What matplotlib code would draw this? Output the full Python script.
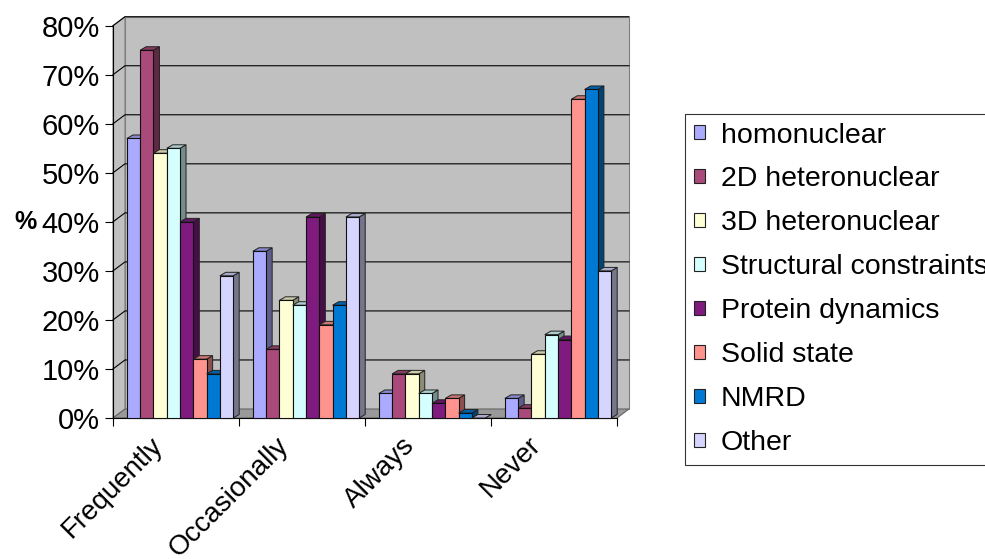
import numpy as np
import matplotlib.pyplot as plt
from matplotlib.patches import Polygon, Patch
from matplotlib.transforms import offset_copy

plt.rcParams['font.family'] = ['Liberation Sans', 'DejaVu Sans']

categories = ['Frequently', 'Occasionally', 'Always', 'Never']
series_names = ['homonuclear', '2D heteronuclear', '3D heteronuclear',
                'Structural constraints', 'Protein dynamics', 'Solid state',
                'NMRD', 'Other']
homonuclear = [57, 34, 5, 4]
hetero_2d = [75, 14, 9, 2]
hetero_3d = [54, 24, 9, 13]
structural = [55, 23, 5, 17]
dynamics = [40, 41, 3, 16]
solid_state = [12, 19, 4, 65]
nmrd = [9, 23, 1, 67]
other = [29, 41, 0, 30]
series = [homonuclear, hetero_2d, hetero_3d, structural, dynamics,
          solid_state, nmrd, other]
colors = ['#AAAAFF', '#AA4A7A', '#FFFFD5', '#D5FFFF', '#7F1A7F',
          '#FF948F', '#0079D5', '#D5D5FF']
yticks = [0, 10, 20, 30, 40, 50, 60, 70, 80]

W, H = 985, 559
fig = plt.figure(figsize=(W / 100, H / 100), dpi=100)
ax = fig.add_axes([113 / W, (H - 418) / H, 504 / W, (418 - 25.7) / H])
ax.set_xlim(0, 4)
ax.set_ylim(0, 80)
ax.set_facecolor('none')

# pixel -> data conversion for the fake 3d depth
px_x = 4 / 504
px_y = 80 / (418 - 25.7)
wdx, wdy = 12 * px_x, 9 * px_y     # wall depth
bdx, bdy = 6 * px_x, 3.5 * px_y    # bar depth

wall_col = '#C0C0C0'
# side wall
ax.add_patch(Polygon([(0, 0), (wdx, wdy), (wdx, 80 + wdy), (0, 80)],
                     closed=True, fc=wall_col, ec='#808080', lw=0.8,
                     clip_on=False, zorder=0.5))
# back wall
ax.add_patch(Polygon([(wdx, wdy), (4 + wdx, wdy), (4 + wdx, 80 + wdy), (wdx, 80 + wdy)],
                     closed=True, fc=wall_col, ec='#808080', lw=0.8,
                     clip_on=False, zorder=0.5))
# gridlines across side and back wall
for v in yticks[1:]:
    ax.plot([0, wdx, 4 + wdx], [v, v + wdy, v + wdy], color='black', lw=0.8,
            clip_on=False, zorder=1)
# floor
ax.add_patch(Polygon([(0, 0), (4, 0), (4 + wdx, wdy), (wdx, wdy)],
                     closed=True, fc='#999999', ec='#666666', lw=0.8,
                     clip_on=False, zorder=1.5))

def shade(c, f):
    r, g, b = [int(c[i:i + 2], 16) / 255 for i in (1, 3, 5)]
    return (r * f, g * f, b * f)

bw = 0.1055
start = 0.11
for j, (vals, col) in enumerate(zip(series, colors)):
    for i, v in enumerate(vals):
        x0 = i + start + j * bw
        z = 3 + j * 0.1
        ax.add_patch(Polygon([(x0 + bw, 0), (x0 + bw + bdx, bdy), (x0 + bw + bdx, v + bdy), (x0 + bw, v)],
                             closed=True, fc=shade(col, 0.55), ec='#222222', lw=0.7,
                             zorder=z, clip_on=False))
        ax.add_patch(Polygon([(x0, v), (x0 + bdx, v + bdy), (x0 + bw + bdx, v + bdy), (x0 + bw, v)],
                             closed=True, fc=shade(col, 0.8), ec='#222222', lw=0.7,
                             zorder=z, clip_on=False))
    ax.bar([i + start + j * bw for i in range(len(vals))], vals, width=bw,
           align='edge', color=col, edgecolor='#111111', lw=0.8,
           zorder=3 + j * 0.1 + 0.05, clip_on=False)

for s in ['top', 'right']:
    ax.spines[s].set_visible(False)
ax.spines['left'].set_color('black')
ax.spines['bottom'].set_color('black')
ax.spines['left'].set_zorder(2)
ax.spines['bottom'].set_zorder(2)

ax.set_yticks(yticks)
ax.set_yticklabels([f'{v}%' for v in yticks])
ax.tick_params(axis='y', length=5.8, width=0.8, pad=3.6, labelsize=21)
ax.set_xticks(range(5))
ax.set_xticklabels([])
ax.tick_params(axis='x', length=5.8, width=0.8)

label_tf = offset_copy(ax.get_xaxis_transform(), fig=fig, x=-26 * 0.72, y=-14 * 0.72,
                       units='points')
for i, name in enumerate(categories):
    ax.text(i + 0.5, 0, name, transform=label_tf, rotation=45,
            rotation_mode='anchor', ha='right', va='top', fontsize=20)

ax.set_ylabel('%', rotation=0, fontweight='bold', fontsize=18,
              ha='right', va='center', labelpad=4)

handles = [Patch(fc=c, ec='#222222', lw=0.8) for c in colors]
leg = fig.legend(handles, series_names, loc='upper left',
                 bbox_to_anchor=(685 / W, 1 - 114 / H), fontsize=20.5,
                 frameon=True, fancybox=False, edgecolor='black',
                 handlelength=0.39, handleheight=0.39, handletextpad=0.56,
                 labelspacing=0.63, borderpad=0.3, borderaxespad=0)
leg.get_frame().set_linewidth(0.8)

fig.savefig('out.png', dpi=100)
